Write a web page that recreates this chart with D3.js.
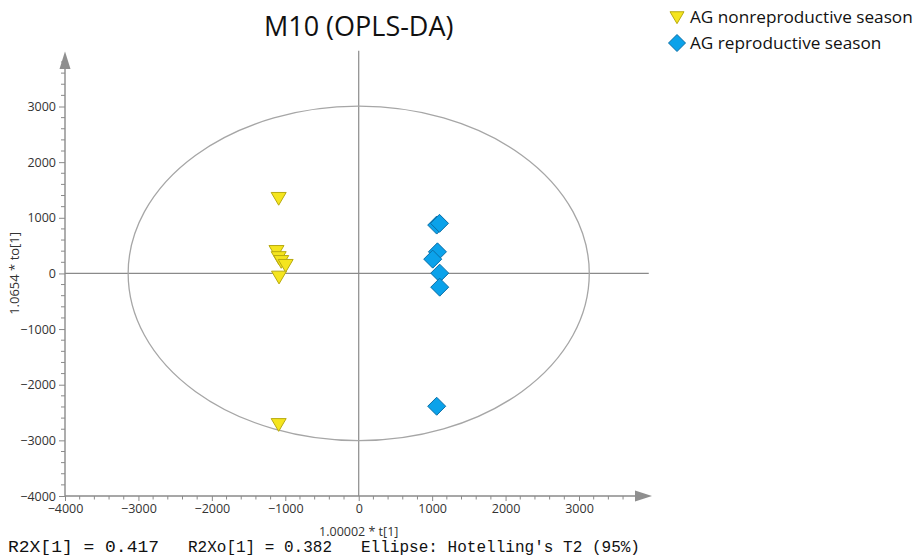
<!DOCTYPE html>
<html>
<head>
<meta charset="utf-8">
<script src="https://cdn.jsdelivr.net/npm/d3@7"></script>
<style>
  html, body { margin: 0; padding: 0; background: #fff; }
  svg { display: block; }
</style>
</head>
<body>
<svg id="chart" width="924" height="558"></svg>
<script>
// OPLS-DA score plot: predictive component t[1] vs orthogonal component to[1]
const seriesNames = ["AG nonreproductive season", "AG reproductive season"];

// AG nonreproductive season scores
const nonreproT  = [-1090, -1120, -1090, -1055, -995, -1085, -1090];
const nonreproTo = [1354, 400, 290, 220, 150, -60, -2710];

// AG reproductive season scores
const reproT  = [1062, 1100, 1072, 1008, 1103, 1103, 1062];
const reproTo = [869, 900, 388, 257, 5, -247, -2387];

// Axis ticks
const xTicks = [-4000, -3000, -2000, -1000, 0, 1000, 2000, 3000];
const yTicks = [-4000, -3000, -2000, -1000, 0, 1000, 2000, 3000];

// Hotelling's T2 (95%) ellipse semi-axes
const ellipseRadii = [3140, 3005];

const title = "M10 (OPLS-DA)";
const xLabel = "1.00002 * t[1]";
const yLabel = "1.0654 * to[1]";
const footer = ["R2X[1] = 0.417", "R2Xo[1] = 0.382", "Ellipse: Hotelling's T2 (95%)"];

const svg = d3.select("#chart");
const uiFont = "'Open Sans', 'Noto Sans', sans-serif";

const x = d3.scaleLinear().domain([-4000, 3000]).range([65, 579]);
const y = d3.scaleLinear().domain([-4000, 3000]).range([496, 106.5]);

const axisColor = "#8a8a8a";
const tickFmt = d3.format("d");

// Reference lines through the origin
svg.append("line")
  .attr("x1", x(-4000)).attr("x2", x(3950))
  .attr("y1", y(0)).attr("y2", y(0))
  .attr("stroke", axisColor).attr("stroke-width", 1.2);
svg.append("line")
  .attr("x1", x(0)).attr("x2", x(0))
  .attr("y1", y(-4000)).attr("y2", y(4000))
  .attr("stroke", axisColor).attr("stroke-width", 1.2);

// Ellipse
svg.append("ellipse")
  .attr("cx", x(0)).attr("cy", y(0))
  .attr("rx", x(ellipseRadii[0]) - x(0))
  .attr("ry", y(0) - y(ellipseRadii[1]))
  .attr("fill", "none")
  .attr("stroke", "#a6a6a6").attr("stroke-width", 1.3);

// Minor ticks every 200 units
const minorX = d3.range(-4000, 3801, 200).filter(v => v % 1000 !== 0);
const minorY = d3.range(-4000, 3801, 200).filter(v => v % 1000 !== 0);

// X axis
const xAxis = d3.axisBottom(x).tickValues(xTicks).tickFormat(tickFmt)
  .tickSize(5).tickSizeOuter(0).tickPadding(3);
const gx = svg.append("g").attr("transform", `translate(0,${y(-4000)})`).call(xAxis);
gx.select(".domain").remove();
gx.selectAll("line").attr("stroke", axisColor);
gx.selectAll("text").attr("font-family", uiFont).attr("font-size", 12.5).attr("fill", "#333");
gx.selectAll(".minor").data(minorX).enter().append("line")
  .attr("x1", d => x(d)).attr("x2", d => x(d))
  .attr("y1", 0).attr("y2", 3.5)
  .attr("stroke", axisColor);
svg.append("line")
  .attr("x1", x(-4000)).attr("x2", 640)
  .attr("y1", y(-4000)).attr("y2", y(-4000))
  .attr("stroke", axisColor).attr("stroke-width", 1.4);
svg.append("path")
  .attr("d", `M635,${y(-4000) - 5.5} L652,${y(-4000)} L635,${y(-4000) + 5.5} Z`)
  .attr("fill", "#8f8f8f");

// Y axis
const yAxis = d3.axisLeft(y).tickValues(yTicks).tickFormat(tickFmt)
  .tickSize(6).tickSizeOuter(0).tickPadding(3);
const gy = svg.append("g").attr("transform", `translate(${x(-4000)},0)`).call(yAxis);
gy.select(".domain").remove();
gy.selectAll("line").attr("stroke", axisColor);
gy.selectAll("text").attr("font-family", uiFont).attr("font-size", 12.5).attr("fill", "#333");
gy.selectAll(".minor").data(minorY).enter().append("line")
  .attr("x1", -4).attr("x2", 0)
  .attr("y1", d => y(d)).attr("y2", d => y(d))
  .attr("stroke", axisColor);
svg.append("line")
  .attr("x1", x(-4000)).attr("x2", x(-4000))
  .attr("y1", y(-4000)).attr("y2", 64)
  .attr("stroke", axisColor).attr("stroke-width", 1.4);
svg.append("path")
  .attr("d", `M${x(-4000) - 5.5},69 L${x(-4000)},51.5 L${x(-4000) + 5.5},69 Z`)
  .attr("fill", "#8f8f8f");

// Axis titles
svg.append("text")
  .attr("x", x(0)).attr("y", 536)
  .attr("text-anchor", "middle")
  .attr("font-family", uiFont).attr("font-size", 12.5).attr("fill", "#333")
  .text(xLabel);
svg.append("text")
  .attr("transform", `translate(19,${y(0)}) rotate(-90)`)
  .attr("text-anchor", "middle")
  .attr("font-family", uiFont).attr("font-size", 13).attr("fill", "#333")
  .text(yLabel);

// Title
svg.append("text")
  .attr("x", x(0)).attr("y", 36)
  .attr("text-anchor", "middle")
  .attr("font-family", uiFont).attr("font-size", 27).attr("fill", "#111")
  .text(title);

// Marker shapes
const triangleDown = s => `M${-s},${-s * 0.75} L${s},${-s * 0.75} L0,${s * 0.95} Z`;
const diamond = s => `M0,${-s} L${s},0 L0,${s} L${-s},0 Z`;

const nonrepro = nonreproT.map((t, i) => ({ t, to: nonreproTo[i] }));
const repro = reproT.map((t, i) => ({ t, to: reproTo[i] }));

svg.append("g").selectAll("path").data(nonrepro).enter().append("path")
  .attr("transform", d => `translate(${x(d.t)},${y(d.to)})`)
  .attr("d", triangleDown(7.5))
  .attr("fill", "#f5e51e").attr("stroke", "#b8aa10").attr("stroke-width", 1);

svg.append("g").selectAll("path").data(repro).enter().append("path")
  .attr("transform", d => `translate(${x(d.t)},${y(d.to)})`)
  .attr("d", diamond(9))
  .attr("fill", "#0ba2ea").attr("stroke", "#0a6ea6").attr("stroke-width", 1);

// Legend
const legend = svg.append("g");
legend.append("path").attr("transform", "translate(677,17)")
  .attr("d", triangleDown(7))
  .attr("fill", "#f5e51e").attr("stroke", "#b8aa10").attr("stroke-width", 1);
legend.append("path").attr("transform", "translate(677,43)")
  .attr("d", diamond(8.5))
  .attr("fill", "#0ba2ea").attr("stroke", "#0a6ea6").attr("stroke-width", 1);
seriesNames.forEach((name, i) => {
  legend.append("text")
    .attr("x", 690).attr("y", 23 + i * 26)
    .attr("font-family", uiFont).attr("font-size", 17.2).attr("fill", "#111")
    .text(name);
});

// Model statistics footer
const footerX = [8, 188, 361];
const footerW = [151, 144, 279];
footer.forEach((s, i) => {
  svg.append("text")
    .attr("x", footerX[i]).attr("y", 552)
    .attr("font-family", "'Liberation Mono', 'DejaVu Sans Mono', monospace")
    .attr("font-size", 17).attr("fill", "#111")
    .attr("textLength", footerW[i]).attr("lengthAdjust", "spacingAndGlyphs")
    .text(s);
});
</script>
</body>
</html>
